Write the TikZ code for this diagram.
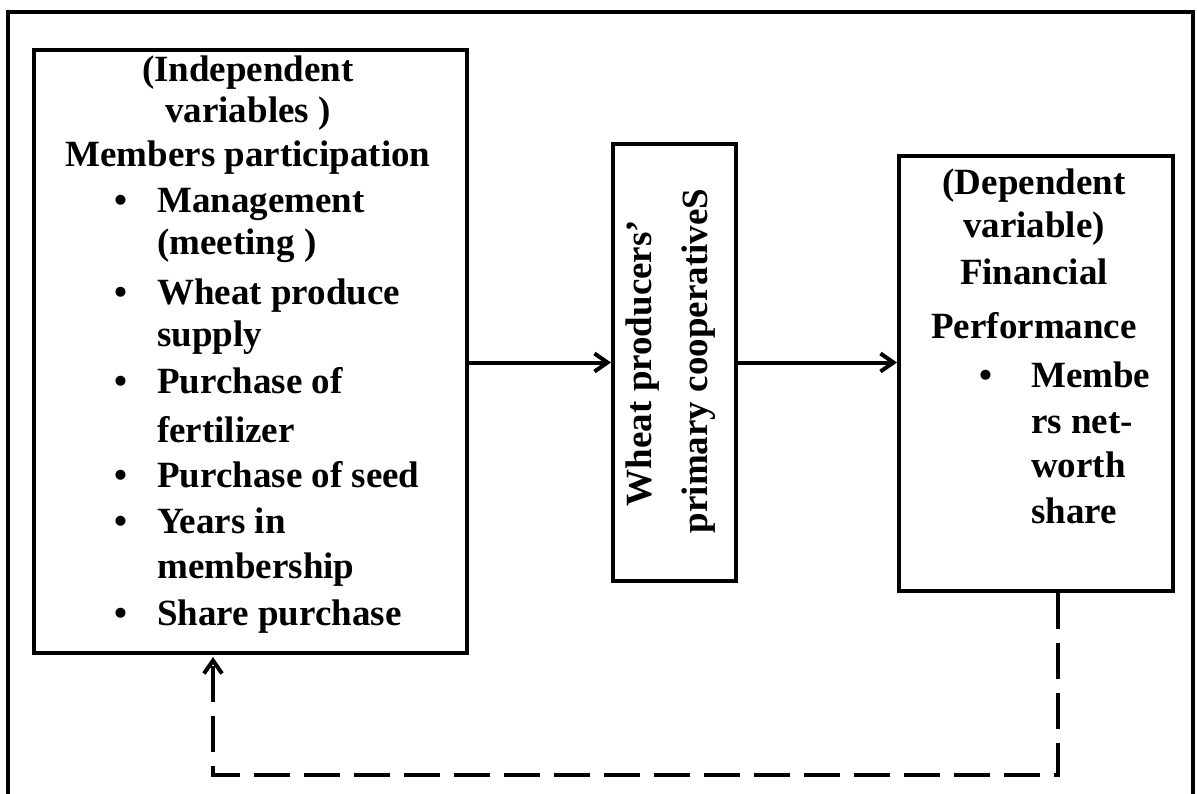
\documentclass[tikz,border=0pt]{standalone}
\usepackage{fontspec}
\setmainfont{Liberation Serif}
\usetikzlibrary{arrows.meta}
\begin{document}
\begin{tikzpicture}[x=1pt,y=1pt,
  box/.style={draw, line width=4pt, inner sep=0pt, anchor=north west},
  txt/.style={font=\fontsize{37}{44}\selectfont\bfseries, inner sep=0pt, anchor=base},
  lft/.style={txt, anchor=base west},
  conn/.style={line width=4pt, -{Straight Barb[length=13pt,width=18pt,line width=4pt]}},
  fb/.style={line width=4pt, dash pattern=on 36pt off 14pt, -{Straight Barb[length=13pt,width=18pt,line width=4pt]}, shorten >=2pt}]
\useasboundingbox (0,0) rectangle (1197,-794);
\clip (0,0) rectangle (1197,-794);
% outer frame
\draw[line width=4.5pt] (8,-850) -- (8,-12) -- (1193,-12) -- (1193,-850);
% boxes
\node[box, minimum width=433pt, minimum height=603pt] (L) at (32,-48) {};
\node[box, minimum width=123pt, minimum height=437pt] (M) at (611,-142) {};
\node[box, minimum width=274pt, minimum height=435pt] (R) at (897,-154) {};
% left box text
\node[txt] (l1) at (248,-82) {(Independent};
\node[txt] (l2) at (248,-123) {variables )};
\node[txt] (l3) at (248,-167) {Members participation};
\node[txt] (b1) at (121,-213) {•};
\node[lft] (l4) at (157,-213) {Management};
\node[lft] (l5) at (157,-255) {(meeting )};
\node[txt] (b2) at (121,-305) {•};
\node[lft] (l6) at (157,-305) {Wheat produce};
\node[lft] (l7) at (157,-347) {supply};
\node[txt] (b3) at (121,-393) {•};
\node[lft] (l8) at (157,-393) {Purchase of};
\node[lft] (l9) at (157,-442) {fertilizer};
\node[txt] (b4) at (121,-487) {•};
\node[lft] (l10) at (157,-487) {Purchase of seed};
\node[txt] (b5) at (121,-533) {•};
\node[lft] (l11) at (157,-533) {Years in};
\node[lft] (l12) at (157,-578) {membership};
\node[txt] (b6) at (121,-625) {•};
\node[lft] (l13) at (157,-625) {Share purchase};
% middle box text
\node[txt, rotate=90] (m1) at (651,-363) {Wheat producers’};
\node[txt, rotate=90] (m2) at (707,-361) {primary cooperativeS};
% right box text
\node[txt] (r1) at (1034,-195) {(Dependent};
\node[txt] (r2) at (1034,-238) {variable)};
\node[txt] (r3) at (1034,-285) {Financial};
\node[txt] (r4) at (1034,-338) {Performance};
\node[txt] (b7) at (986,-387) {•};
\node[lft] (r5) at (1031,-387) {Membe};
\node[lft] (r6) at (1031,-433) {rs net-};
\node[lft] (r7) at (1031,-477) {worth};
\node[lft] (r8) at (1031,-523) {share};
% connectors
\coordinate (c1) at (1058,-775);
\coordinate (c2) at (213,-775);
\draw[conn] (L.east |- M.west) -- (M.west);
\draw[conn] (M.east) -- (R.west |- M.east);
\draw[fb] (R.south -| c1) -- (c1) -- (c2) -- (L.south -| c2);
\end{tikzpicture}
\end{document}
